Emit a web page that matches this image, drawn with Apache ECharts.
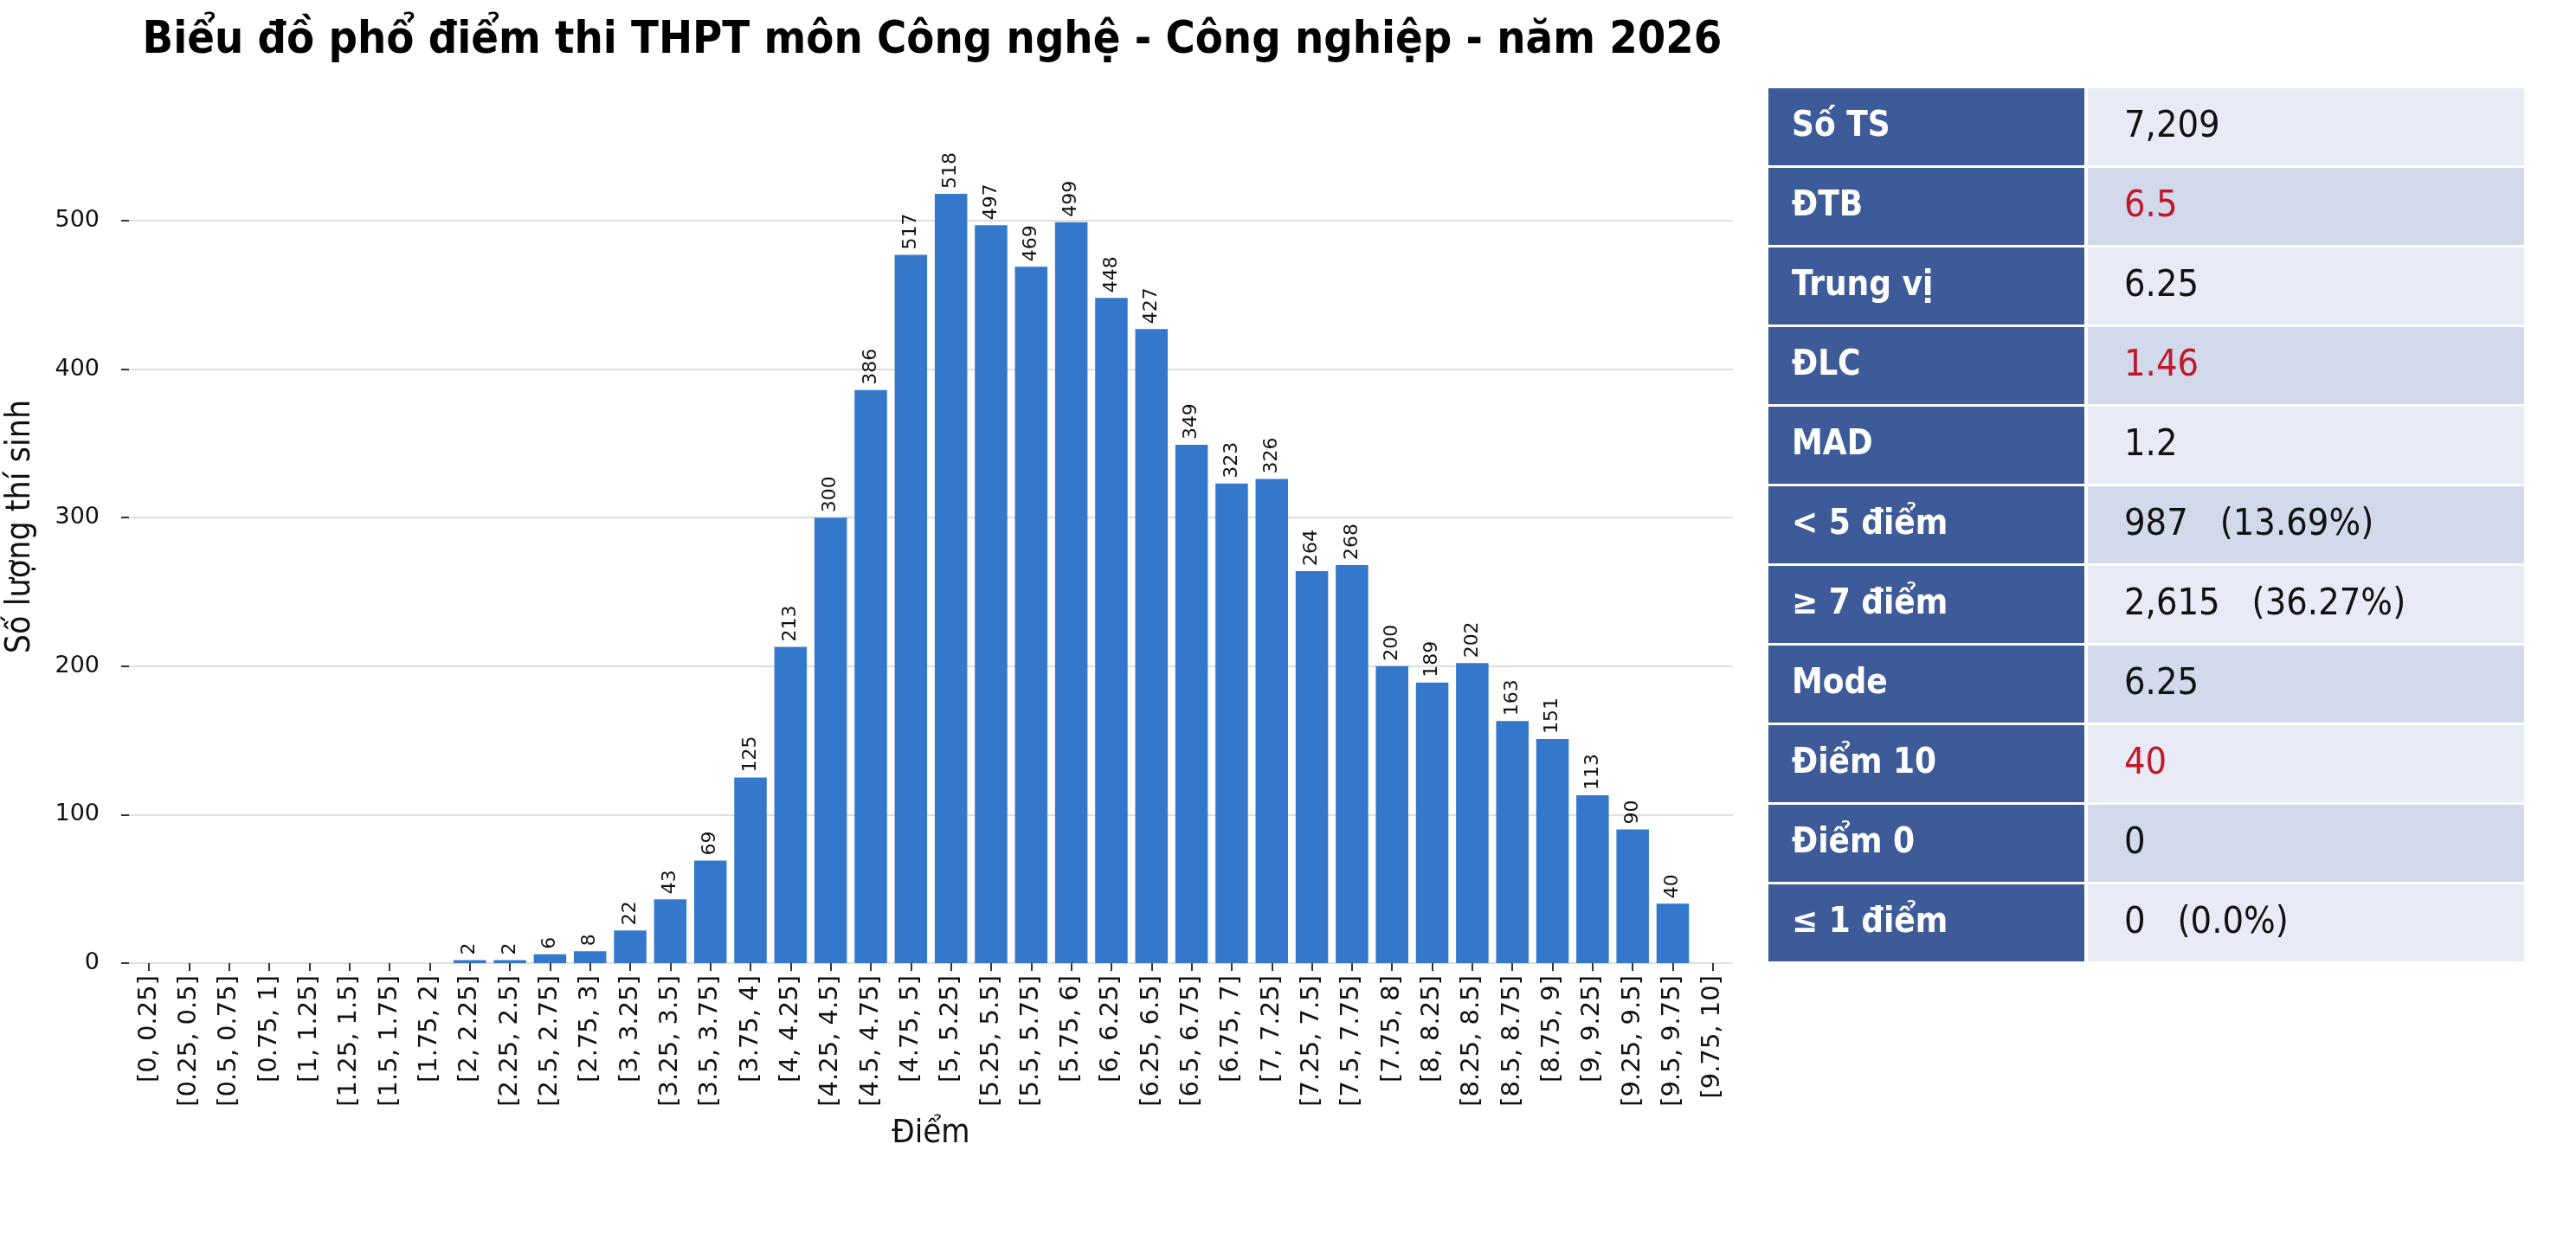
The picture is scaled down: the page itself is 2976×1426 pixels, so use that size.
<!DOCTYPE html>
<html>
<head>
<meta charset="utf-8">
<title>Phổ điểm Công nghệ - Công nghiệp 2026</title>
<script src="https://cdn.jsdelivr.net/npm/echarts/dist/echarts.min.js"></script>
<style>
  html, body { margin: 0; padding: 0; background: #fff; }
  #chart { width: 2976px; height: 1426px; }
</style>
</head>
<body>
<div id="chart"></div>
<script>
// khoảng điểm (trục x)
var scoreBins = [
  '[0, 0.25]', '[0.25, 0.5]', '[0.5, 0.75]', '[0.75, 1]',
  '[1, 1.25]', '[1.25, 1.5]', '[1.5, 1.75]', '[1.75, 2]',
  '[2, 2.25]', '[2.25, 2.5]', '[2.5, 2.75]', '[2.75, 3]',
  '[3, 3.25]', '[3.25, 3.5]', '[3.5, 3.75]', '[3.75, 4]',
  '[4, 4.25]', '[4.25, 4.5]', '[4.5, 4.75]', '[4.75, 5]',
  '[5, 5.25]', '[5.25, 5.5]', '[5.5, 5.75]', '[5.75, 6]',
  '[6, 6.25]', '[6.25, 6.5]', '[6.5, 6.75]', '[6.75, 7]',
  '[7, 7.25]', '[7.25, 7.5]', '[7.5, 7.75]', '[7.75, 8]',
  '[8, 8.25]', '[8.25, 8.5]', '[8.5, 8.75]', '[8.75, 9]',
  '[9, 9.25]', '[9.25, 9.5]', '[9.5, 9.75]', '[9.75, 10]'
]
// chiều cao cột (số thí sinh mỗi khoảng)
var studentCounts = [
  0, 0, 0, 0, 0, 0, 0, 0,
  2, 2, 6, 8, 22, 43, 69, 125,
  213, 300, 386, 477, 518, 497, 469, 499,
  448, 427, 349, 323, 326, 264, 268, 200,
  189, 202, 163, 151, 113, 90, 40, 0
]
// số in trên đầu cột (cột [4.75, 5] ghi 517)
var countLabels = [
  0, 0, 0, 0, 0, 0, 0, 0,
  2, 2, 6, 8, 22, 43, 69, 125,
  213, 300, 386, 517, 518, 497, 469, 499,
  448, 427, 349, 323, 326, 264, 268, 200,
  189, 202, 163, 151, 113, 90, 40, 0
]
var yTickValues = [0, 100, 200, 300, 400, 500]

// bảng thống kê
var statLabels = ['Số TS', 'ĐTB', 'Trung vị', 'ĐLC', 'MAD', '< 5 điểm', '≥ 7 điểm', 'Mode', 'Điểm 10', 'Điểm 0', '≤ 1 điểm']
var statValues = ['7,209', '6.5', '6.25', '1.46', '1.2', '987   (13.69%)', '2,615   (36.27%)', '6.25', '40', '0', '0   (0.0%)']
var statHighlight = [false, true, false, true, false, false, false, false, true, false, false]

var FONT = "'DejaVu Sans Condensed', 'DejaVu Sans', sans-serif"
var FONT_TICK = "'DejaVu Sans', sans-serif"

function renderStatRow(params, api) {
  var i = api.value(1)
  var cs = params.coordSys
  var center = api.coord([0, i])
  var h = api.size([0, 1])[1]
  var top = center[1] - h / 2
  var cellH = h - 3
  var leftW = Math.round(cs.width * 0.418)
  var rightX = cs.x + leftW + 4
  return {
    type: 'group',
    children: [
      {
        type: 'rect',
        shape: { x: cs.x, y: top, width: leftW, height: cellH },
        style: { fill: '#3d5a99' }
      },
      {
        type: 'rect',
        shape: { x: rightX, y: top, width: cs.x + cs.width - rightX, height: cellH },
        style: { fill: i % 2 ? '#d2d9ea' : '#e8ebf5' }
      },
      {
        type: 'text',
        x: cs.x + 27,
        y: top + cellH / 2,
        style: {
          text: statLabels[i],
          fill: '#ffffff',
          fontFamily: FONT,
          fontWeight: 'bold',
          fontSize: 40,
          verticalAlign: 'middle',
          align: 'left'
        }
      },
      {
        type: 'text',
        x: rightX + 42,
        y: top + cellH / 2,
        style: {
          text: statValues[i],
          fill: statHighlight[i] ? '#c0182b' : '#111111',
          fontFamily: FONT,
          fontSize: 43,
          verticalAlign: 'middle',
          align: 'left'
        }
      }
    ]
  }
}

var chart = echarts.init(document.getElementById('chart'), null, { renderer: 'canvas' })

chart.setOption({
  backgroundColor: '#ffffff',
  animation: false,
  textStyle: { fontFamily: FONT_TICK },
  title: {
    text: 'Biểu đồ phổ điểm thi THPT môn Công nghệ - Công nghiệp - năm 2026',
    left: 1072,
    top: 16,
    textAlign: 'center',
    textStyle: { fontFamily: FONT, fontSize: 52, fontWeight: 'bold', color: '#000' }
  },
  grid: [
    { left: 149, top: 104, width: 1853, height: 1009, outerBoundsMode: 'none', containLabel: false },
    { left: 2043, top: 102, width: 873, height: 1012, outerBoundsMode: 'none', containLabel: false }
  ],
  xAxis: [
    {
      type: 'category',
      gridIndex: 0,
      data: scoreBins,
      name: 'Điểm',
      nameLocation: 'middle',
      nameGap: 178,
      nameTextStyle: { fontSize: 38, color: '#111', fontFamily: FONT },
      axisLine: { show: false },
      axisTick: { show: true, alignWithLabel: true, length: 9, lineStyle: { color: '#333', width: 2 } },
      axisLabel: { rotate: 90, interval: 0, fontSize: 29, color: '#111', margin: 14, fontFamily: FONT_TICK },
      splitLine: { show: false }
    },
    {
      type: 'value',
      gridIndex: 1,
      min: 0,
      max: 1,
      show: false
    }
  ],
  yAxis: [
    {
      type: 'value',
      gridIndex: 0,
      min: 0,
      max: 588,
      interval: 100,
      name: 'Số lượng thí sinh',
      nameLocation: 'middle',
      nameGap: 106,
      nameTextStyle: { fontSize: 39, color: '#111', fontFamily: FONT },
      axisLine: { show: false },
      axisTick: { show: true, length: 9, customValues: yTickValues, lineStyle: { color: '#333', width: 2 } },
      axisLabel: {
        show: true,
        margin: 34,
        formatter: function (v) { return v % 100 === 0 ? '{t|' + v + '}' : '' },
        rich: {
          t: { fontSize: 27, fontFamily: FONT_TICK, color: '#111' }
        }
      },
      splitLine: { show: true, lineStyle: { color: '#dedede', width: 2 } }
    },
    {
      type: 'category',
      gridIndex: 1,
      data: statLabels,
      inverse: true,
      show: false
    }
  ],
  series: [
    {
      type: 'bar',
      xAxisIndex: 0,
      yAxisIndex: 0,
      data: studentCounts,
      barWidth: '81%',
      itemStyle: { color: '#3478cc' },
      label: {
        show: true,
        position: 'top',
        rotate: 90,
        align: 'left',
        verticalAlign: 'middle',
        distance: 6,
        fontSize: 22,
        color: '#111',
        fontFamily: FONT_TICK,
        formatter: function (p) {
          var t = countLabels[p.dataIndex]
          return t > 0 ? String(t) : ''
        }
      }
    },
    {
      type: 'custom',
      xAxisIndex: 1,
      yAxisIndex: 1,
      data: statLabels.map(function (s, i) { return [0, i] }),
      renderItem: renderStatRow,
      silent: true
    }
  ]
})
</script>
</body>
</html>
